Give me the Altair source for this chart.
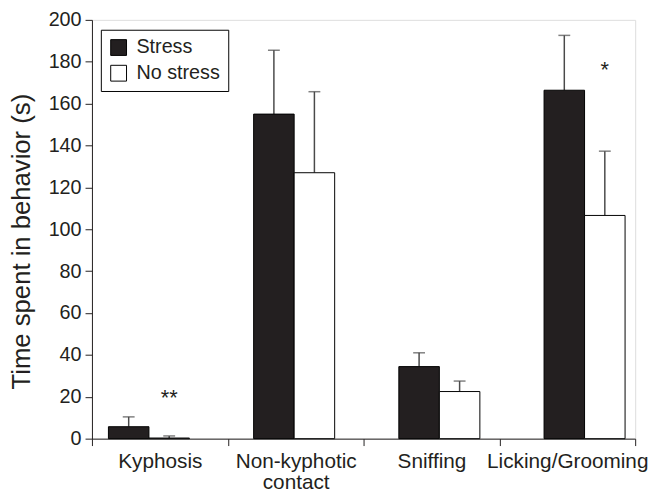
import altair as alt
import pandas as pd

categories = ["Kyphosis", "Non-kyphotic contact", "Sniffing", "Licking/Grooming"]
groups = ["Stress", "No stress"]
stress_mean = [5.7, 155.0, 34.4, 166.4]
stress_sem = [4.7, 30.5, 6.6, 26.2]
nostress_mean = [0.3, 127.0, 22.5, 106.6]
nostress_sem = [1.0, 38.7, 5.0, 30.7]
sig_labels = ["**", "", "", "*"]
sig_y = [19.5, None, None, 176]

rows = []
for i, c in enumerate(categories):
    rows.append({"cat": c, "grp": "Stress", "mean": stress_mean[i], "top": stress_mean[i] + stress_sem[i]})
    rows.append({"cat": c, "grp": "No stress", "mean": nostress_mean[i], "top": nostress_mean[i] + nostress_sem[i]})
df = pd.DataFrame(rows)

sig_rows = [{"cat": categories[i], "grp": "No stress", "lab": sig_labels[i], "y": sig_y[i]}
            for i in range(len(categories)) if sig_labels[i]]
sig_df = pd.DataFrame(sig_rows)
cat_df = pd.DataFrame({"cat": categories})

FONT = "Liberation Sans"
INK = "#231f20"
ERR = "#4a4a4a"
YTITLE = "Time spent in behavior (s)"

# axis layer: category labels and ticks between categories
x_axis = alt.X("cat:N", sort=categories, title=None,
               scale=alt.Scale(domain=categories, paddingInner=0, paddingOuter=0),
               axis=alt.Axis(labelAngle=0, labelAlign="center", labelBaseline="top",
                             tickBand="extent", tickSize=7,
                             labelFontSize=21, labelFont=FONT, labelColor=INK,
                             domainColor=INK, tickColor=INK, labelPadding=5,
                             labelLineHeight=21,
                             labelExpr="datum.label == 'Non-kyphotic contact' ? ['Non-kyphotic', 'contact'] : datum.label"))

# bar layers: their own band scale (bars sit slightly off the label centres)
x_bar = alt.X("cat:N", sort=categories, title=None,
              scale=alt.Scale(domain=categories, paddingInner=0.442, paddingOuter=0.0915, align=0.62),
              axis=None)
xoff = alt.XOffset("grp:N", sort=groups,
                   scale=alt.Scale(domain=groups, paddingInner=0, paddingOuter=0))
yscale = alt.Scale(domain=[0, 200], nice=False)
y_axis = alt.Axis(values=list(range(0, 201, 20)), grid=False, tickSize=7,
                  labelFontSize=20, labelFont=FONT, labelColor=INK, labelPadding=4,
                  titleFontSize=26, titleFont=FONT, titleFontWeight="normal",
                  titleColor=INK, domainColor=INK, tickColor=INK, titlePadding=14,
                  titleY=224)

axis_layer = alt.Chart(cat_df).mark_tick(opacity=0).encode(
    x=x_axis,
    y=alt.Y("zero:Q", scale=yscale, title=YTITLE, axis=y_axis),
).transform_calculate(zero="0")

err = alt.Chart(df).mark_rule(color=ERR, strokeWidth=1.5).encode(
    x=x_bar, xOffset=xoff,
    y=alt.Y("mean:Q", scale=yscale, title=YTITLE, axis=y_axis),
    y2="top:Q",
)

caps = alt.Chart(df).mark_tick(color=ERR, thickness=1.5, size=12).encode(
    x=x_bar, xOffset=xoff,
    y=alt.Y("top:Q", scale=yscale, title=YTITLE, axis=y_axis),
)

bars = alt.Chart(df).mark_bar(stroke="black", strokeWidth=1).encode(
    x=x_bar, xOffset=xoff,
    y=alt.Y("mean:Q", scale=yscale, title=YTITLE, axis=y_axis),
    fill=alt.Fill("grp:N", sort=groups,
                  scale=alt.Scale(domain=groups, range=[INK, "white"]),
                  legend=alt.Legend(title=None, orient="none", legendX=9, legendY=10,
                                    symbolType="square", symbolSize=256,
                                    symbolStrokeColor="black", symbolStrokeWidth=1,
                                    labelFontSize=20, labelFont=FONT, labelColor=INK,
                                    labelOffset=8,
                                    strokeColor="black", padding=8, rowPadding=6)),
)

stars = alt.Chart(sig_df).mark_text(fontSize=22, font=FONT, color=INK, baseline="middle").encode(
    x=x_bar, xOffset=xoff,
    y=alt.Y("y:Q", scale=yscale, title=YTITLE, axis=y_axis),
    text="lab:N",
)

chart = alt.layer(axis_layer, err, caps, bars, stars).resolve_scale(
    x="independent"
).properties(
    width=550, height=424,
    autosize=alt.AutoSizeParams(type="none"),
    padding={"left": 85, "top": 9, "right": 14, "bottom": 52},
).configure_view(stroke="black", strokeWidth=1).configure(background="white")

chart.save("out.html", embed_options={"renderer": "svg", "actions": False})
